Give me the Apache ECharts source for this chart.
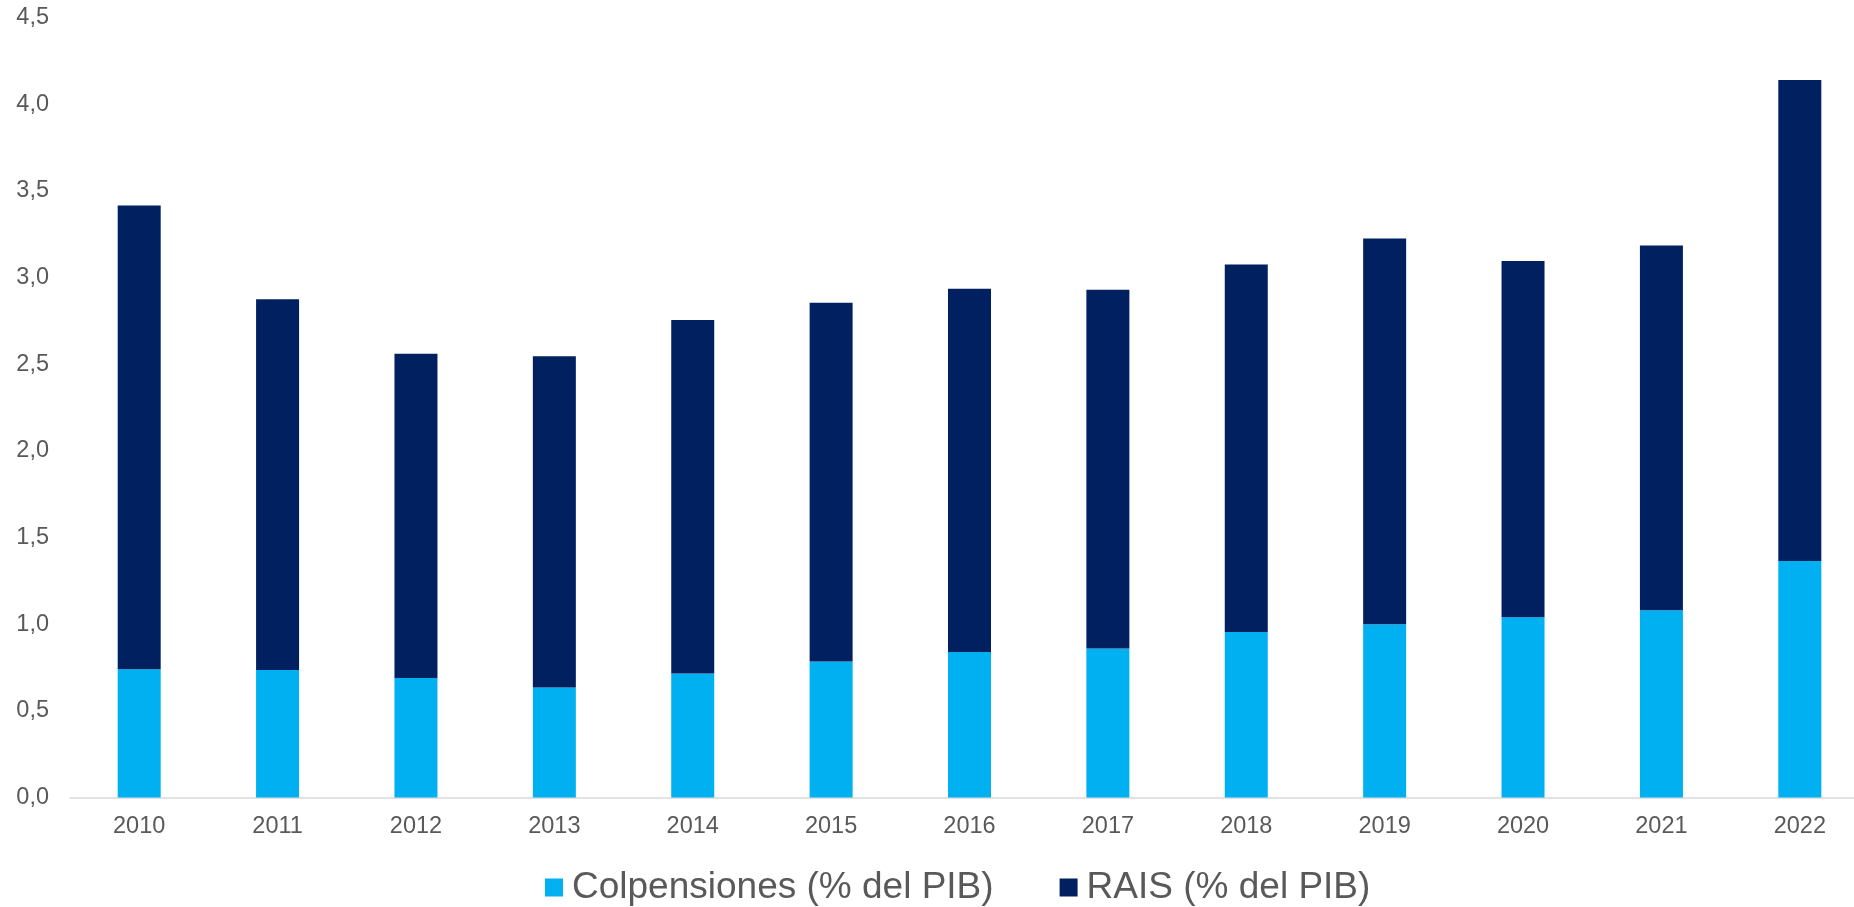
<!DOCTYPE html>
<html>
<head>
<meta charset="utf-8">
<script src="https://cdn.jsdelivr.net/npm/echarts@6/dist/echarts.min.js"></script>
<style>
html,body{margin:0;padding:0;background:#fff;overflow:hidden;width:1854px;height:907px;}
#chart{width:1869px;height:907px;}
</style>
</head>
<body>
<div id="chart"></div>
<script>
const categories = ['2010','2011','2012','2013','2014','2015','2016','2017','2018','2019','2020','2021','2022'];
const colpensiones = [0.74, 0.735, 0.69, 0.635, 0.715, 0.785, 0.84, 0.86, 0.955, 1.0, 1.04, 1.08, 1.365];
const rais = [2.675, 2.14, 1.87, 1.91, 2.04, 2.07, 2.095, 2.07, 2.12, 2.225, 2.055, 2.105, 2.775];
const seriesNames = ['Colpensiones (% del PIB)', 'RAIS (% del PIB)'];
const yTicks = { min: 0, max: 4.5, interval: 0.5 };

const chart = echarts.init(document.getElementById('chart'));
const fmt = v => v.toFixed(1).replace('.', ',');
chart.setOption({
  animation: false,
  backgroundColor: '#ffffff',
  textStyle: { fontFamily: 'Liberation Sans, Arial, sans-serif' },
  grid: { left: 70, right: 0, top: 17.5, bottom: 109.5, containLabel: false },
  legend: {
    left: 540,
    top: 864,
    itemWidth: 18,
    itemHeight: 18,
    itemGap: 66,
    icon: 'rect',
    textStyle: { fontSize: 37, color: '#595959', padding: [0, 0, 0, 4], fontFamily: 'Liberation Sans, Arial, sans-serif' },
    data: seriesNames
  },
  xAxis: {
    type: 'category',
    data: categories,
    axisLine: { show: true, lineStyle: { color: '#D9D9D9', width: 1.5 } },
    axisTick: { show: false },
    axisLabel: { color: '#595959', fontSize: 23.5, margin: 17 },
    splitLine: { show: false }
  },
  yAxis: {
    type: 'value',
    min: yTicks.min,
    max: yTicks.max,
    interval: yTicks.interval,
    axisLine: { show: false },
    axisTick: { show: false },
    splitLine: { show: false },
    axisLabel: { color: '#595959', fontSize: 23.5, margin: 21, formatter: fmt }
  },
  series: [
    {
      name: seriesNames[0],
      type: 'bar',
      stack: 'total',
      barWidth: 43,
      itemStyle: { color: '#00B0F0' },
      data: colpensiones
    },
    {
      name: seriesNames[1],
      type: 'bar',
      stack: 'total',
      barWidth: 43,
      itemStyle: { color: '#002060' },
      data: rais
    }
  ]
});
</script>
</body>
</html>
